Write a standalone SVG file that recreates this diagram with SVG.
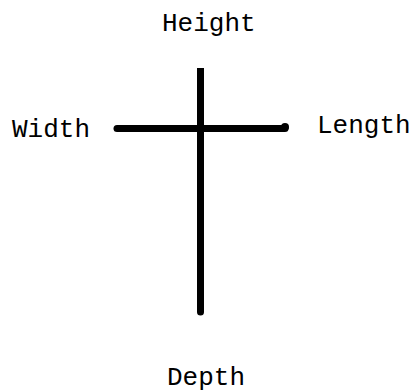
<svg xmlns="http://www.w3.org/2000/svg" width="412" height="392" viewBox="0 0 412 392">
<style>
.lbl{font-family:"Liberation Mono","Courier New",monospace;font-size:26px;fill:#000}
.axis{stroke:#000;stroke-width:7;fill:none}
</style>
<rect width="412" height="392" fill="#fff"/>
<g id="connectors">
<line class="axis" x1="200.5" y1="68" x2="200.5" y2="312" stroke-linecap="butt"/>
<circle cx="200.5" cy="312" r="3.5" fill="#000"/>
<line class="axis" x1="117" y1="128.5" x2="285" y2="128.5" stroke-linecap="round"/>
<circle cx="285" cy="127" r="4" fill="#000"/>
</g>
<g id="height"><text class="lbl" x="162" y="31">Height</text></g>
<g id="width"><text class="lbl" x="12" y="137">Width</text></g>
<g id="length"><text class="lbl" x="317" y="133">Length</text></g>
<g id="depth"><text class="lbl" x="167" y="385">Depth</text></g>
</svg>
